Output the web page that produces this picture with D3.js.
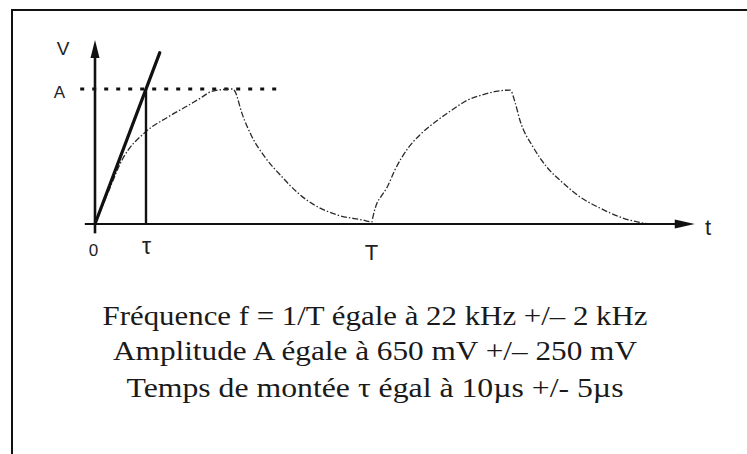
<!DOCTYPE html>
<html>
<head>
<meta charset="utf-8">
<script src="https://cdn.jsdelivr.net/npm/d3@7"></script>
<style>
  body { margin: 0; background: #fff; }
  svg { display: block; }
</style>
</head>
<body>
<svg id="chart" width="747" height="454"></svg>
<script>
// Two periods of the charging / discharging pulse (time in µs, voltage in mV)
const pulseTime = [0, 2.6, 5.3, 10, 14.3, 18.2, 20.6, 23.1, 27.1, 27.5, 28.8, 30.8, 33.3, 36.7, 39.8, 43.7, 47.6, 52.5, 54.3,
                   54.5, 55.3, 55.9, 57.3, 58.8, 61.4, 63.7, 66.7, 70.0, 73.1, 75.9, 79.0, 81.4, 82.4, 83.3, 85.9, 88.6, 91.8, 95.1, 99.0, 102.9, 106.3, 108.8];
const pulseVolt = [0, 154, 308, 445, 515, 570, 605, 640, 650, 636, 534, 419, 323, 226, 149, 82, 43, 19, 10,
                   34, 101, 125, 178, 260, 366, 429, 491, 549, 597, 621, 640, 645, 583, 501, 371, 274, 197, 130, 77, 34, 10, 0];

// Characteristic values
const amplitude = 650;      // A, mV
const riseTime = 10;        // τ, µs
const period = 54.3;        // T, as drawn on the time axis

// Initial tangent of the rising edge
const tangentTime = [0, 12.7];
const tangentVolt = [0, 825];

// Horizontal guide at the amplitude level
const guideTime = [-2.9, 36.9];

// Axis extents and tick labels
const timeExtent = [-2, 117.6];
const voltExtent = [-45, 886];
const timeTicks = [0, riseTime, period];
const timeTickLabels = ["0", "τ", "T"];
const voltTicks = [amplitude];
const voltTickLabels = ["A"];

const captions = [
  "Fréquence f = 1/T égale à 22 kHz +/– 2 kHz",
  "Amplitude A égale à 650 mV +/– 250 mV",
  "Temps de montée τ égal à 10µs +/- 5µs"
];

const svg = d3.select("#chart");

const x = d3.scaleLinear().domain([0, 100]).range([95, 605]);
const y = d3.scaleLinear().domain([0, amplitude]).range([224, 89]);

// Frame
svg.append("rect")
  .attr("x", 12).attr("y", 10)
  .attr("width", 780).attr("height", 480)
  .attr("fill", "none").attr("stroke", "#111").attr("stroke-width", 2);

// Amplitude guide (dotted)
svg.append("line")
  .attr("x1", x(guideTime[0])).attr("x2", x(guideTime[1]))
  .attr("y1", y(amplitude)).attr("y2", y(amplitude))
  .attr("stroke", "#111").attr("stroke-width", 3)
  .attr("stroke-dasharray", "4,8");

// Signal curve
const line = d3.line()
  .x((d, i) => x(pulseTime[i]))
  .y((d, i) => y(pulseVolt[i]))
  .curve(d3.curveMonotoneX);

svg.append("path")
  .datum(pulseTime)
  .attr("d", line)
  .attr("fill", "none")
  .attr("stroke", "#2a2a2a")
  .attr("stroke-width", 1.3)
  .attr("stroke-dasharray", "6,2,1.5,2");

// Time axis with arrow
svg.append("line")
  .attr("x1", x(timeExtent[0])).attr("x2", x(timeExtent[1]) - 10)
  .attr("y1", y(0)).attr("y2", y(0))
  .attr("stroke", "#111").attr("stroke-width", 2.2);
const tx = x(timeExtent[1]), ty = y(0);
svg.append("path")
  .attr("d", d3.line()([[tx, ty], [tx - 20, ty - 4.5], [tx - 20, ty + 4.5]]) + "Z")
  .attr("fill", "#111");

// Voltage axis with arrow
svg.append("line")
  .attr("x1", x(0)).attr("x2", x(0))
  .attr("y1", y(voltExtent[0])).attr("y2", y(voltExtent[1]) + 10)
  .attr("stroke", "#111").attr("stroke-width", 2.6);
const vx = x(0), vy = y(voltExtent[1]);
svg.append("path")
  .attr("d", d3.line()([[vx, vy], [vx - 4.5, vy + 18], [vx + 4.5, vy + 18]]) + "Z")
  .attr("fill", "#111");

// Tangent at the origin
svg.append("line")
  .attr("x1", x(tangentTime[0])).attr("y1", y(tangentVolt[0]))
  .attr("x2", x(tangentTime[1])).attr("y2", y(tangentVolt[1]))
  .attr("stroke", "#111").attr("stroke-width", 3.2)
  .attr("stroke-linecap", "round");

// Rise-time marker
svg.append("line")
  .attr("x1", x(riseTime)).attr("x2", x(riseTime))
  .attr("y1", y(amplitude)).attr("y2", y(0))
  .attr("stroke", "#111").attr("stroke-width", 2.4);

// Tick labels through the axis generators
const labelFont = "'Liberation Sans', Arial, sans-serif";
const gx = svg.append("g")
  .attr("transform", `translate(0,${y(0)})`)
  .call(d3.axisBottom(x).tickValues(timeTicks)
    .tickFormat((d, i) => timeTickLabels[i])
    .tickSize(0).tickPadding(20));
gx.select(".domain").remove();
gx.selectAll("text")
  .attr("font-family", labelFont)
  .attr("font-size", (d, i) => [17, 23, 22][i])
  .attr("fill", "#222")
  .attr("dy", (d, i) => ["0.71em", "0.45em", "0.71em"][i])
  .attr("dx", (d, i) => [-2, 0, -1][i]);

const gy = svg.append("g")
  .attr("transform", `translate(${x(0)},0)`)
  .call(d3.axisLeft(y).tickValues(voltTicks)
    .tickFormat((d, i) => voltTickLabels[i])
    .tickSize(0).tickPadding(30));
gy.select(".domain").remove();
gy.selectAll("text")
  .attr("font-family", labelFont)
  .attr("font-size", 17)
  .attr("fill", "#222")
  .attr("dy", "0.5em");

// Axis titles
svg.append("text")
  .attr("x", 63).attr("y", 55)
  .attr("text-anchor", "middle")
  .attr("font-family", labelFont).attr("font-size", 19).attr("fill", "#222")
  .text("V");
svg.append("text")
  .attr("x", 708).attr("y", 235)
  .attr("text-anchor", "middle")
  .attr("font-family", labelFont).attr("font-size", 22).attr("fill", "#222")
  .text("t");

// Specification captions
const captionWidths = [545, 524, 497];
svg.append("g").selectAll("text")
  .data(captions)
  .join("text")
  .attr("x", 375)
  .attr("y", (d, i) => [325, 360, 397][i])
  .attr("text-anchor", "middle")
  .attr("font-family", "'Liberation Serif', 'Times New Roman', serif")
  .attr("font-size", 27)
  .attr("fill", "#1a1a1a")
  .attr("textLength", (d, i) => captionWidths[i])
  .attr("lengthAdjust", "spacingAndGlyphs")
  .text(d => d);
</script>
</body>
</html>
